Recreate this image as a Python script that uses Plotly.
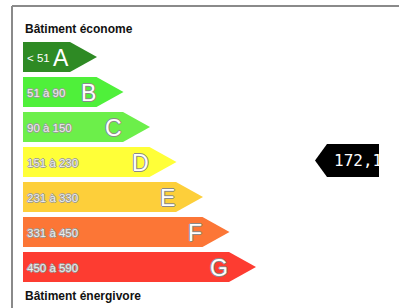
import plotly.graph_objects as go

# ---- data ----
classes = ["A", "B", "C", "D", "E", "F", "G"]
range_labels = ["< 51", "51 à 90", "90 à 150", "151 à 230", "231 à 330", "331 à 450", "450 à 590"]
upper_bounds = [51, 90, 150, 230, 330, 450, 590]
class_colors = ["#2e8a24", "#4ff03a", "#6cef4a", "#ffff38", "#fdcf3a", "#fc7636", "#fd3c31"]
value = 172.1
value_label = "172,1"
title_top = "Bâtiment économe"
title_bottom = "Bâtiment énergivore"

# ---- layout constants (pixel-like axis units) ----
W, H = 399, 308
X0 = 23          # left edge of bars
REND0 = 70       # rectangle end of first bar
STEP = 26.5      # rectangle length increment per class
TIP = 27         # arrow tip length
Y0 = 42          # top of first bar
PITCH = 35       # row pitch
BH = 30          # bar height

FONT = "Liberation Sans, Arial, sans-serif"
outline = "-1px 0 #8a8a8a, 1px 0 #8a8a8a, 0 -1px #8a8a8a, 0 1px #8a8a8a"
small_outline = "-1px 0 #9a9a9a, 1px 0 #9a9a9a, 0 -1px #9a9a9a, 0 1px #9a9a9a"

fig = go.Figure()
annotations = []

for i, (cls, lab, col) in enumerate(zip(classes, range_labels, class_colors)):
    top = Y0 + PITCH * i
    bot = top + BH
    mid = (top + bot) / 2
    rend = REND0 + STEP * i
    xs = [X0, rend, rend + TIP, rend, X0, X0]
    ys = [top, top, mid, bot, bot, top]
    fig.add_trace(go.Scatter(x=xs, y=ys, mode="lines", fill="toself",
                             fillcolor=col, line=dict(width=0, color=col),
                             hoverinfo="skip", showlegend=False))
    annotations.append(dict(x=X0 + 2, y=mid + 1, text=lab, showarrow=False,
                            xanchor="left", yanchor="middle",
                            font=dict(family=FONT, size=11.5,
                                      color="#ffffff" if i == 0 else "#eeeeee",
                                      shadow="none" if i == 0 else small_outline)))
    annotations.append(dict(x=rend + 1, y=mid + 1, text=cls, showarrow=False,
                            xanchor="right", yanchor="middle",
                            font=dict(family=FONT, size=23, color="#ffffff",
                                      shadow="none" if i == 0 else outline)))

# ---- indicator ----
idx = next(i for i, ub in enumerate(upper_bounds) if value <= ub)
row_mid = Y0 + PITCH * idx + BH / 2 - 1.5
half = 16.5
ix_tip, ix_rect, ix_end = 315, 327, 379
fig.add_trace(go.Scatter(x=[ix_tip, ix_rect, ix_end, ix_end, ix_rect, ix_tip],
                         y=[row_mid, row_mid - half, row_mid - half, row_mid + half, row_mid + half, row_mid],
                         mode="lines", fill="toself", fillcolor="#000000",
                         line=dict(width=0, color="#000000"),
                         hoverinfo="skip", showlegend=False))
fig.add_trace(go.Scatter(x=[334], y=[row_mid + 1], mode="text", text=[value_label],
                         textposition="middle right",
                         textfont=dict(family="DejaVu Sans Mono, monospace", size=16, color="#ffffff"),
                         hoverinfo="skip", showlegend=False))

# ---- titles ----
annotations.append(dict(x=X0, y=29, text="<b>%s</b>" % title_top, showarrow=False,
                        xanchor="left", yanchor="middle",
                        font=dict(family=FONT, size=12, color="#111111")))
annotations.append(dict(x=X0, y=296, text="<b>%s</b>" % title_bottom, showarrow=False,
                        xanchor="left", yanchor="middle",
                        font=dict(family=FONT, size=12, color="#111111")))

shapes = [
    # clip region at the right of the indicator
    dict(type="rect", x0=ix_end, x1=W, y0=row_mid - half - 2, y1=row_mid + half + 2,
         fillcolor="#ffffff", line=dict(width=0), layer="above"),
    # frame
    dict(type="line", x0=12, x1=W, y0=6, y1=6, line=dict(color="#8a8a8a", width=2), layer="above"),
    dict(type="line", x0=12, x1=12, y0=6, y1=H, line=dict(color="#8a8a8a", width=2), layer="above"),
]

fig.update_layout(
    width=W, height=H,
    margin=dict(l=0, r=0, t=0, b=0),
    paper_bgcolor="#ffffff", plot_bgcolor="#ffffff",
    xaxis=dict(range=[0, W], visible=False, fixedrange=True),
    yaxis=dict(range=[H, 0], visible=False, fixedrange=True),
    annotations=annotations,
    shapes=shapes,
    showlegend=False,
)

fig.write_html("out.html", config={"displayModeBar": False},
               post_script="document.body.style.margin='0';document.body.style.overflow='hidden';")
